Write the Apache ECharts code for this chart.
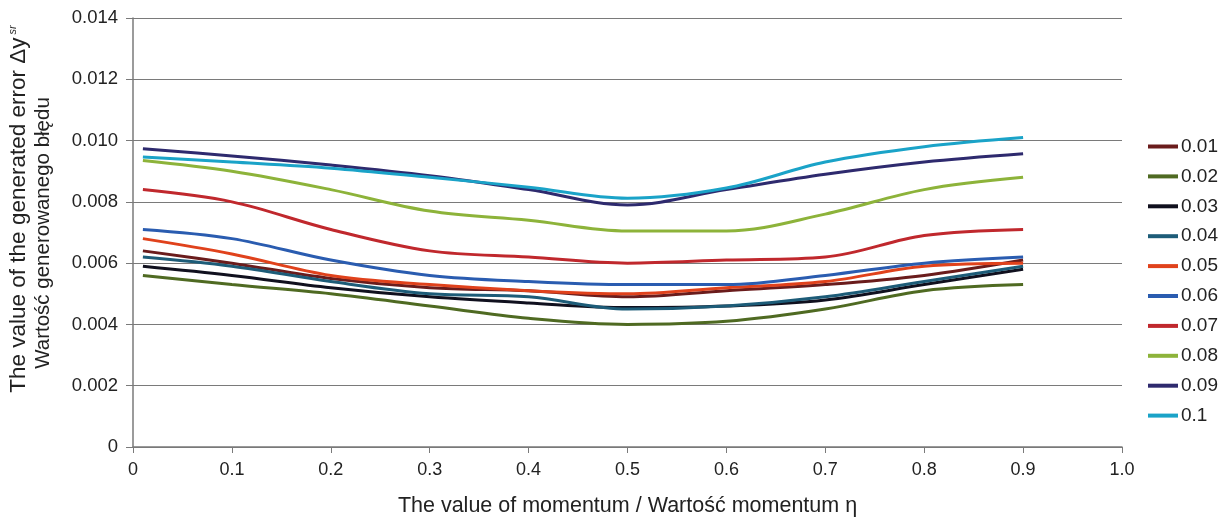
<!DOCTYPE html>
<html><head><meta charset="utf-8">
<script src="https://cdn.jsdelivr.net/npm/echarts@6/dist/echarts.min.js"></script>
<style>html,body{margin:0;padding:0;background:#fff}#c{width:1221px;height:518px}</style>
</head><body><div id="c"></div>
<script>
const momentum = [0.01, 0.1, 0.2, 0.3, 0.4, 0.5, 0.6, 0.7, 0.8, 0.9];
const seriesNames = ['0.01','0.02','0.03','0.04','0.05','0.06','0.07','0.08','0.09','0.1'];
const s001 = [0.0064, 0.0060, 0.0055, 0.0052, 0.0051, 0.0049, 0.0051, 0.0053, 0.0056, 0.0061];
const s002 = [0.0056, 0.0053, 0.0050, 0.0046, 0.0042, 0.0040, 0.0041, 0.0045, 0.0051, 0.0053];
const s003 = [0.0059, 0.0056, 0.0052, 0.0049, 0.0047, 0.00455, 0.0046, 0.0048, 0.0053, 0.0058];
const s004 = [0.0062, 0.0059, 0.0054, 0.0050, 0.0049, 0.0045, 0.0046, 0.0049, 0.0054, 0.0059];
const s005 = [0.0068, 0.0063, 0.0056, 0.0053, 0.0051, 0.0050, 0.0052, 0.0054, 0.0059, 0.0060];
const s006 = [0.0071, 0.0068, 0.0061, 0.0056, 0.0054, 0.0053, 0.0053, 0.0056, 0.0060, 0.0062];
const s007 = [0.0084, 0.0080, 0.0071, 0.0064, 0.0062, 0.0060, 0.0061, 0.0062, 0.0069, 0.0071];
const s008 = [0.00935, 0.0090, 0.0084, 0.0077, 0.0074, 0.00705, 0.00705, 0.0076, 0.0084, 0.0088];
const s009 = [0.00973, 0.0095, 0.0092, 0.00885, 0.0084, 0.0079, 0.0084, 0.0089, 0.0093, 0.00957];
const s010 = [0.00946, 0.0093, 0.0091, 0.0088, 0.00848, 0.00812, 0.00845, 0.0093, 0.0098, 0.0101];
const allValues = [s001, s002, s003, s004, s005, s006, s007, s008, s009, s010];
const colors = ['#6a1c1c','#4f6a22','#10101e','#1d5c78','#e0421c','#2a5cb0','#c0282d','#8db33a','#2e2a6e','#1aa3c8'];

const chart = echarts.init(document.getElementById('c'));
const font = 'Liberation Sans, Arial, sans-serif';
chart.setOption({
  animation: false,
  color: colors,
  grid: {left: 133, right: 99, top: 18, bottom: 71, containLabel: false, outerBoundsMode: 'none'},
  legend: {
    orient: 'vertical', left: 1143, top: 132, itemGap: 10.9,
    itemWidth: 30, itemHeight: 20, icon: 'path://M0,8 L30,8 L30,12 L0,12 Z',
    textStyle: {fontFamily: font, fontSize: 19, color: '#222', padding: [0,0,0,-2]},
    data: seriesNames
  },
  xAxis: {
    type: 'value', min: 0, max: 1, interval: 0.1,
    axisLine: {lineStyle: {color: '#7a7a7a', width: 1.5}},
    axisTick: {show: true, length: 6, lineStyle: {color: '#7a7a7a'}},
    splitLine: {show: false},
    axisLabel: {fontFamily: font, fontSize: 18, color: '#222', margin: 14,
      formatter: v => v === 0 ? '0' : (v === 1 ? '1.0' : v.toFixed(1))},
    name: 'The value of momentum / Wartość momentum η',
    nameLocation: 'middle', nameGap: 48,
    nameTextStyle: {fontFamily: font, fontSize: 21.5, color: '#222'}
  },
  yAxis: {
    type: 'value', min: 0, max: 0.014, interval: 0.002,
    axisLine: {show: true, lineStyle: {color: '#7a7a7a', width: 1.5}},
    axisTick: {show: true, length: 7, lineStyle: {color: '#7a7a7a'}},
    splitLine: {lineStyle: {color: '#7a7a7a', width: 1.2}},
    axisLabel: {fontFamily: font, fontSize: 18.5, color: '#222', margin: 15,
      formatter: v => v === 0 ? '0' : v.toFixed(3)}
  },
  graphic: [{
    type: 'text', x: 19, y: 209, rotation: Math.PI / 2,
    style: {
      text: '{a|The value of the generated error Δy}{s| sr}',
      align: 'center', verticalAlign: 'middle', fill: '#222',
      rich: {
        a: {fontFamily: font, fontSize: 22.5, fill: '#222'},
        s: {fontFamily: font, fontSize: 11, fontStyle: 'italic', verticalAlign: 'bottom', padding: [0,0,12,0], fill: '#222'}
      }
    }
  }, {
    type: 'text', x: 43, y: 233, rotation: Math.PI / 2,
    style: {
      text: 'Wartość generowanego błędu',
      align: 'center', verticalAlign: 'middle', fill: '#222',
      font: '20.5px Liberation Sans, Arial, sans-serif'
    }
  }],
  series: allValues.map((vals, i) => ({
    name: seriesNames[i], type: 'line', smooth: 0.35, showSymbol: false,
    lineStyle: {width: 3, color: colors[i]},
    data: momentum.map((m, j) => [m, vals[j]])
  }))
});
</script></body></html>
